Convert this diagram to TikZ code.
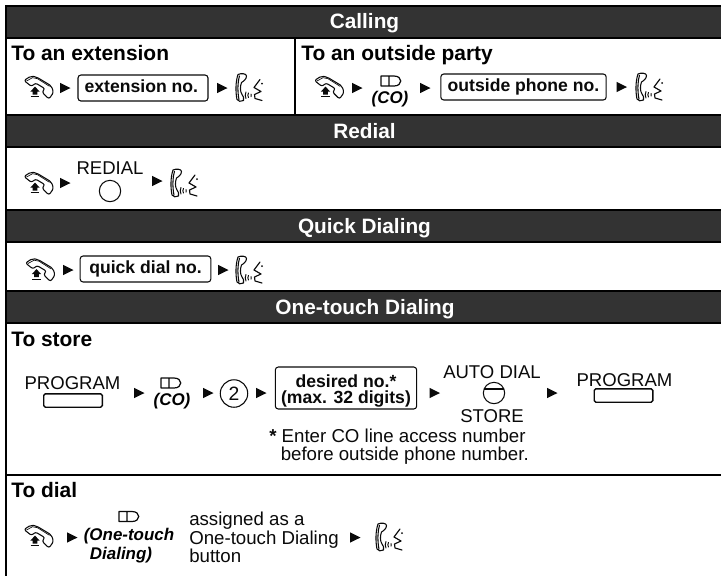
\documentclass[tikz,border=0pt]{standalone}
\usepackage{fontspec}
\setmainfont{Liberation Sans}
\definecolor{hdr}{HTML}{333333}
\definecolor{ink}{HTML}{0A0A0A}
\tikzset{
  rule/.style={line width=1.5pt,black},
  hband/.style={fill=hdr,draw=none},
  htext/.style={text=white,font=\fontsize{15.6}{18}\selectfont\bfseries,inner sep=0pt,anchor=base},
  sub/.style={text=black,font=\fontsize{15.7}{18}\selectfont\bfseries,inner sep=0pt,anchor=base west},
  lab/.style={text=ink,font=\fontsize{13.9}{16}\selectfont,inner sep=0pt,anchor=base},
  labw/.style={text=ink,font=\fontsize{14}{16}\selectfont,inner sep=0pt,anchor=base west},
  ital/.style={text=black,font=\fontsize{12.7}{15}\selectfont\bfseries\itshape,inner sep=0pt,anchor=base},
  bld/.style={text=ink,font=\fontsize{13.2}{15}\selectfont\bfseries,inner sep=0pt,anchor=base},
  entry/.style={draw=ink,line width=.8pt,rounded corners=2.2pt,inner sep=0pt,text=ink,
     font=\fontsize{13.2}{15}\selectfont\bfseries,text height=10pt,text depth=2.6pt},
  key/.style={draw=ink,line width=1pt,rounded corners=1.2pt},
  icon/.style={draw=ink,line width=.8pt,fill=white,line join=round,line cap=round},
  tri/.pic={\fill[ink] (0,-5.2) -- (10.5,0) -- (0,5.2) -- cycle;},
  handset/.pic={
    \draw[icon,rounded corners=1.6pt] (-14.5,-7) -- (-7.5,-11.5) -- (-2,-10.5) -- (13,-1.5) -- (15,5) -- (10.5,11.5) -- (3.5,4.5) -- (6.5,1.2) -- (-3,-4.5) -- (-7,-1) -- cycle;
    \draw[ink,line width=.5pt] (-12,-6.5) -- (-6,-9.8) -- (-1,-8.8) -- (11,-1.2);
    \fill[ink] (-8.2,4) -- (-3.5,-.8) -- (1.2,4) -- (-1.2,4) -- (-1.2,7) -- (-5.8,7) -- (-5.8,4) -- cycle;
    \draw[ink,line width=.9pt] (-7.8,9.3) -- (.8,9.3);
  },
  talk/.pic={
    \draw[ink,line width=.8pt,line join=round,line cap=round]
      (2,0) .. controls (5,-1.5) and (10.5,-1) .. (10.5,1.5)
      .. controls (10.5,5) and (7,7) .. (5.5,8)
      .. controls (4,12) and (4,17) .. (6,20)
      .. controls (7.5,21) and (8,24) .. (7.5,26)
      .. controls (5,27.5) and (2,27) .. (1,25)
      .. controls (-.5,18) and (-.5,7) .. (2,0) -- cycle
      (3.5,1.5) .. controls (1.5,8) and (1.5,18) .. (3,25);
    \draw[ink,line width=.75pt,line cap=round]
      (10,17.5) .. controls (9,19.5) and (9,22) .. (10,24)
      (12.5,18.5) .. controls (11.6,20) and (11.6,21.5) .. (12.5,23)
      (15,19.5) .. controls (14.5,20.3) and (14.5,21.2) .. (15,22);
    \draw[ink,line width=.85pt,line cap=round,line join=round]
      (24,5) -- (18,13) -- (25,17) -- (18.5,20) -- (19,24) -- (26,26);
    \fill[ink] (26,9) circle (1);
  },
  cokey/.pic={
    \draw[ink,line width=.9pt,line join=round] (-10,-5) -- (3,-5) .. controls (12,-5) and (12,5) .. (3,5) -- (-10,5) -- cycle (-2,-5) -- (-2,5);
  }
}
\begin{document}
\begin{tikzpicture}[x=.75pt,y=-.75pt]
\useasboundingbox (0,0) rectangle (721,576);
\fill[white] (0,0) rectangle (721,576);
% bands
\path[hband] (5,6) rectangle (721,38);
\path[hband] (5,115) rectangle (721,147);
\path[hband] (5,210) rectangle (721,242);
\path[hband] (5,291) rectangle (721,323);
% rules
\draw[rule] (5.5,6) -- (5.5,576);
\foreach \yy in {6,38,115,147,210,242,291,323,475} \draw[rule] (5,\yy) -- (721,\yy);
\draw[rule] (295,38) -- (295,115);
% headers
\node[htext] (hcall) at (364.5,28) {Calling};
\node[htext] (hredial) at (364.5,138) {Redial};
\node[htext] (hquick) at (364.5,233) {Quick Dialing};
\node[htext] (hone) at (365,314) {One-touch Dialing};
% sub headers
\node[sub] (sext) at (11,60) {To an extension};
\node[sub] (sout) at (301,60) {To an outside party};
\node[sub] (sstore) at (11,346) {To store};
\node[sub] (sdial) at (11,497) {To dial};
% row 1 left
\pic at (38.5,87.5) {handset};
\pic at (60,88) {tri};
\node[entry,minimum width=97.5pt,minimum height=19.5pt] (bext) at (143,88) {extension no.\kern2.5pt};
\pic at (217,88) {tri};
\pic at (236,74.5) {talk};
% row 1 right
\pic at (329,87.5) {handset};
\pic at (352,88) {tri};
\pic at (391,81) {cokey};
\node[ital] (co1) at (390,103.5) {(CO)};
\pic at (420,88) {tri};
\node[entry,minimum width=124pt,minimum height=19.5pt] (bout) at (523.5,87) {outside phone no.};
\pic at (616.5,87) {tri};
\pic at (636,74) {talk};
% redial
\pic at (38.5,183.5) {handset};
\pic at (60,183) {tri};
\node[lab] (lredial) at (110,174) {REDIAL};
\node[draw=ink,line width=.8pt,circle,minimum size=16pt,inner sep=0pt] (credial) at (110,191) {};
\pic at (152,181) {tri};
\pic at (171,170) {talk};
% quick
\pic at (40,270) {handset};
\pic at (63,270) {tri};
\node[entry,minimum width=98pt,minimum height=19.5pt] (bquick) at (145.5,269) {quick dial no.};
\pic at (218,270) {tri};
\pic at (236,257) {talk};
% store
\node[lab] (lprog1) at (72.5,389) {PROGRAM};
\node[key,minimum width=44pt,minimum height=10pt,inner sep=0pt] (kprog1) at (73,400.5) {};
\pic at (134,393) {tri};
\pic at (171,383) {cokey};
\node[ital] (co2) at (172,405.5) {(CO)};
\pic at (203,393) {tri};
\node[draw=ink,line width=.8pt,circle,minimum size=20.6pt,inner sep=0pt,font=\fontsize{14.5}{16}\selectfont,text=ink] (two) at (234,393.5) {2};
\pic at (256,393) {tri};
\node[draw=ink,line width=.8pt,rounded corners=2.2pt,minimum width=106pt,minimum height=31.5pt,inner sep=0pt] (bdes) at (346,388) {};
\node[bld] (des1) at (346,387) {desired no.*};
\node[bld] (des2) at (346,403) {(max. 32 digits)};
\pic at (429.5,393) {tri};
\node[lab] (lauto) at (492,378) {AUTO DIAL};
\node[draw=ink,line width=.8pt,circle,minimum size=16pt,inner sep=0pt] (cauto) at (494,393) {};
\draw[ink,line width=.8pt] (484.3,389) -- (503.7,389);
\node[lab] (lstore) at (492,422) {STORE};
\pic at (547,393) {tri};
\node[lab] (lprog2) at (624.5,386) {PROGRAM};
\node[key,minimum width=44pt,minimum height=10pt,inner sep=0pt] (kprog2) at (623.5,395.5) {};
\node[labw] (note1) at (269,442) {\textbf{*} Enter CO line access number};
\node[labw] (note2) at (280.5,460) {before outside phone number.};
% dial
\pic at (38.5,536.5) {handset};
\pic at (67,537.5) {tri};
\pic at (129,516.5) {cokey};
\node[ital] (ot1) at (129,540) {(One-touch};
\node[ital] (ot2) at (121,559) {Dialing)};
\node[labw] (as1) at (189,525) {assigned as a};
\node[labw] (as2) at (189,544) {One-touch Dialing};
\node[labw] (as3) at (189,562) {button};
\pic at (350,537.5) {tri};
\pic at (376,524) {talk};
\end{tikzpicture}
\end{document}
